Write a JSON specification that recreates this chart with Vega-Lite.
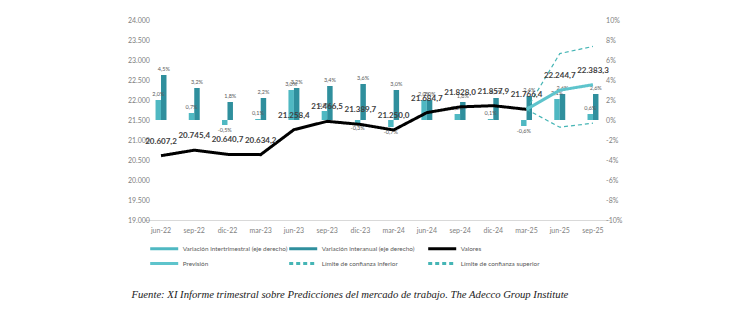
{
  "$schema": "https://vega.github.io/schema/vega-lite/v6.json",
  "width": 465.2,
  "height": 200,
  "autosize": {"type": "none"},
  "padding": {"left": 144.4, "top": 20, "right": 120.4, "bottom": 110},
  "background": "white",
  "config": {
    "locale": {"number": {"decimal": ",", "thousands": ".", "grouping": [3], "currency": ["", " €"], "minus": "-", "percent": "%"}},
    "font": "Lato",
    "view": {"stroke": null},
    "axis": {"grid": false, "domain": false, "ticks": false, "labelFont": "Lato", "labelFontSize": 7, "labelColor": "#808080", "title": null}
  },
  "title": {
    "text": "Fuente: XI Informe trimestral sobre Predicciones del mercado de trabajo. The Adecco Group Institute",
    "orient": "bottom",
    "anchor": "start",
    "font": "Liberation Serif",
    "fontStyle": "italic",
    "fontWeight": "normal",
    "fontSize": 10.7,
    "color": "#1a1a1a",
    "offset": 20,
    "dx": 4
  },
  "datasets": {
    "bars": [
      {"fecha": "jun-22", "serie": "Variación intertrimestral (eje derecho)", "pct": 0.020},
      {"fecha": "sep-22", "serie": "Variación intertrimestral (eje derecho)", "pct": 0.007},
      {"fecha": "dic-22", "serie": "Variación intertrimestral (eje derecho)", "pct": -0.005},
      {"fecha": "mar-23", "serie": "Variación intertrimestral (eje derecho)", "pct": 0.001},
      {"fecha": "jun-23", "serie": "Variación intertrimestral (eje derecho)", "pct": 0.030},
      {"fecha": "sep-23", "serie": "Variación intertrimestral (eje derecho)", "pct": 0.009},
      {"fecha": "dic-23", "serie": "Variación intertrimestral (eje derecho)", "pct": -0.003},
      {"fecha": "mar-24", "serie": "Variación intertrimestral (eje derecho)", "pct": -0.007},
      {"fecha": "jun-24", "serie": "Variación intertrimestral (eje derecho)", "pct": 0.020},
      {"fecha": "sep-24", "serie": "Variación intertrimestral (eje derecho)", "pct": 0.006},
      {"fecha": "dic-24", "serie": "Variación intertrimestral (eje derecho)", "pct": 0.001},
      {"fecha": "mar-25", "serie": "Variación intertrimestral (eje derecho)", "pct": -0.006},
      {"fecha": "jun-25", "serie": "Variación intertrimestral (eje derecho)", "pct": 0.021},
      {"fecha": "sep-25", "serie": "Variación intertrimestral (eje derecho)", "pct": 0.006},
      {"fecha": "jun-22", "serie": "Variación interanual (eje derecho)", "pct": 0.045},
      {"fecha": "sep-22", "serie": "Variación interanual (eje derecho)", "pct": 0.032},
      {"fecha": "dic-22", "serie": "Variación interanual (eje derecho)", "pct": 0.018},
      {"fecha": "mar-23", "serie": "Variación interanual (eje derecho)", "pct": 0.022},
      {"fecha": "jun-23", "serie": "Variación interanual (eje derecho)", "pct": 0.032},
      {"fecha": "sep-23", "serie": "Variación interanual (eje derecho)", "pct": 0.034},
      {"fecha": "dic-23", "serie": "Variación interanual (eje derecho)", "pct": 0.036},
      {"fecha": "mar-24", "serie": "Variación interanual (eje derecho)", "pct": 0.030},
      {"fecha": "jun-24", "serie": "Variación interanual (eje derecho)", "pct": 0.020},
      {"fecha": "sep-24", "serie": "Variación interanual (eje derecho)", "pct": 0.018},
      {"fecha": "dic-24", "serie": "Variación interanual (eje derecho)", "pct": 0.022},
      {"fecha": "mar-25", "serie": "Variación interanual (eje derecho)", "pct": 0.024},
      {"fecha": "jun-25", "serie": "Variación interanual (eje derecho)", "pct": 0.026},
      {"fecha": "sep-25", "serie": "Variación interanual (eje derecho)", "pct": 0.026}
    ],
    "lines": [
      {"fecha": "jun-22", "serie": "Valores", "valor": 20607.2},
      {"fecha": "sep-22", "serie": "Valores", "valor": 20745.4},
      {"fecha": "dic-22", "serie": "Valores", "valor": 20640.7},
      {"fecha": "mar-23", "serie": "Valores", "valor": 20634.2},
      {"fecha": "jun-23", "serie": "Valores", "valor": 21258.4},
      {"fecha": "sep-23", "serie": "Valores", "valor": 21466.5},
      {"fecha": "dic-23", "serie": "Valores", "valor": 21389.7},
      {"fecha": "mar-24", "serie": "Valores", "valor": 21250.0},
      {"fecha": "jun-24", "serie": "Valores", "valor": 21684.7},
      {"fecha": "sep-24", "serie": "Valores", "valor": 21828.0},
      {"fecha": "dic-24", "serie": "Valores", "valor": 21857.9},
      {"fecha": "mar-25", "serie": "Valores", "valor": 21766.4},
      {"fecha": "mar-25", "serie": "Previsión", "valor": 21766.4},
      {"fecha": "jun-25", "serie": "Previsión", "valor": 22244.7},
      {"fecha": "sep-25", "serie": "Previsión", "valor": 22383.3},
      {"fecha": "mar-25", "serie": "Límite de confianza inferior", "valor": 21766.4},
      {"fecha": "jun-25", "serie": "Límite de confianza inferior", "valor": 21320},
      {"fecha": "sep-25", "serie": "Límite de confianza inferior", "valor": 21420},
      {"fecha": "mar-25", "serie": "Límite de confianza superior", "valor": 21766.4},
      {"fecha": "jun-25", "serie": "Límite de confianza superior", "valor": 23160},
      {"fecha": "sep-25", "serie": "Límite de confianza superior", "valor": 23340}
    ]
  },
  "encoding": {
    "x": {
      "field": "fecha",
      "type": "ordinal",
      "sort": null,
      "scale": {
        "domain": ["jun-22", "sep-22", "dic-22", "mar-23", "jun-23", "sep-23", "dic-23", "mar-24", "jun-24", "sep-24", "dic-24", "mar-25", "jun-25", "sep-25"],
        "paddingInner": 0.67,
        "paddingOuter": 0.335
      },
      "axis": {"labelAngle": 0, "domain": true, "domainColor": "#d9d9d9", "domainWidth": 1, "labelPadding": 6, "labelColor": "#7f7f7f"}
    }
  },
  "layer": [
    {
      "data": {"name": "bars"},
      "encoding": {
        "y": {
          "field": "pct",
          "type": "quantitative",
          "scale": {"domain": [-0.1, 0.1], "nice": false, "zero": false},
          "axis": {"orient": "right", "format": ".0%", "values": [-0.1, -0.08, -0.06, -0.04, -0.02, 0, 0.02, 0.04, 0.06, 0.08, 0.1], "offset": -6, "labelPadding": 2}
        }
      },
      "layer": [
        {
          "mark": {"type": "bar"},
          "encoding": {
            "y2": {"datum": 0},
            "xOffset": {
              "field": "serie",
              "type": "nominal",
              "scale": {"domain": ["Variación intertrimestral (eje derecho)", "Variación interanual (eje derecho)"], "paddingInner": 0, "paddingOuter": 0}
            },
            "color": {
              "field": "serie",
              "type": "nominal",
              "scale": {
                "domain": ["Variación intertrimestral (eje derecho)", "Variación interanual (eje derecho)", "Valores", "Previsión", "Límite de confianza inferior", "Límite de confianza superior"],
                "range": ["#4fb8c2", "#2f8f9d", "#000000", "#5ec4cc", "#45b5b5", "#45b5b5"]
              },
              "legend": {
                "title": null,
                "orient": "none",
                "direction": "horizontal",
                "legendX": 4.3,
                "legendY": 221,
                "columns": 3,
                "gridAlign": "all",
                "columnPadding": -11,
                "rowPadding": 1,
                "symbolType": "M-1,0H3.67",
                "symbolSize": 144,
                "symbolStrokeWidth": 3,
                "labelOffset": 19,
                "labelFont": "Lato",
                "labelFontSize": 6.4,
                "labelColor": "#595959",
                "labelLimit": 200
              }
            }
          }
        },
        {
          "transform": [{"filter": "datum.serie == 'Variación intertrimestral (eje derecho)' && datum.pct >= 0"}],
          "mark": {"type": "text", "fontSize": 5.5, "color": "#595959", "baseline": "bottom", "dy": -3, "dx": -2.75},
          "encoding": {"text": {"field": "pct", "type": "quantitative", "format": ".1%"}}
        },
        {
          "transform": [{"filter": "datum.serie == 'Variación intertrimestral (eje derecho)' && datum.pct < 0"}],
          "mark": {"type": "text", "fontSize": 5.5, "color": "#595959", "baseline": "top", "dy": 3, "dx": -2.75},
          "encoding": {"text": {"field": "pct", "type": "quantitative", "format": ".1%"}}
        },
        {
          "transform": [{"filter": "datum.serie == 'Variación interanual (eje derecho)'"}],
          "mark": {"type": "text", "fontSize": 5.5, "color": "#595959", "baseline": "bottom", "dy": -3, "dx": 2.75},
          "encoding": {"text": {"field": "pct", "type": "quantitative", "format": ".1%"}}
        }
      ]
    },
    {
      "data": {"name": "lines"},
      "encoding": {
        "y": {
          "field": "valor",
          "type": "quantitative",
          "scale": {"domain": [19000, 24000], "nice": false, "zero": false},
          "axis": {"orient": "left", "format": ",.0f", "values": [19000, 19500, 20000, 20500, 21000, 21500, 22000, 22500, 23000, 23500, 24000], "offset": -7, "labelPadding": 2}
        }
      },
      "layer": [
        {
          "transform": [{"filter": "datum.serie == 'Límite de confianza inferior' || datum.serie == 'Límite de confianza superior'"}],
          "mark": {"type": "line", "strokeWidth": 1.2},
          "encoding": {
            "color": {"field": "serie", "type": "nominal"},
            "strokeDash": {
              "field": "serie",
              "type": "nominal",
              "scale": {
                "domain": ["Variación intertrimestral (eje derecho)", "Variación interanual (eje derecho)", "Valores", "Previsión", "Límite de confianza inferior", "Límite de confianza superior"],
                "range": [[1, 0], [1, 0], [1, 0], [1, 0], [4, 3], [4, 3]]
              },
              "legend": {"title": null}
            }
          }
        },
        {
          "transform": [{"filter": "datum.serie == 'Valores' || datum.serie == 'Previsión'"}],
          "mark": {"type": "line", "strokeWidth": 3},
          "encoding": {
            "color": {"field": "serie", "type": "nominal"},
            "strokeDash": {"field": "serie", "type": "nominal"}
          }
        },
        {
          "transform": [{"filter": "datum.serie == 'Valores' || (datum.serie == 'Previsión' && datum.fecha != 'mar-25')"}],
          "mark": {"type": "text", "fontSize": 8, "fontWeight": "bold", "color": "#404040", "baseline": "middle", "dy": -14},
          "encoding": {"text": {"field": "valor", "type": "quantitative", "format": ",.1f"}}
        }
      ]
    }
  ],
  "resolve": {"scale": {"y": "independent"}}
}
